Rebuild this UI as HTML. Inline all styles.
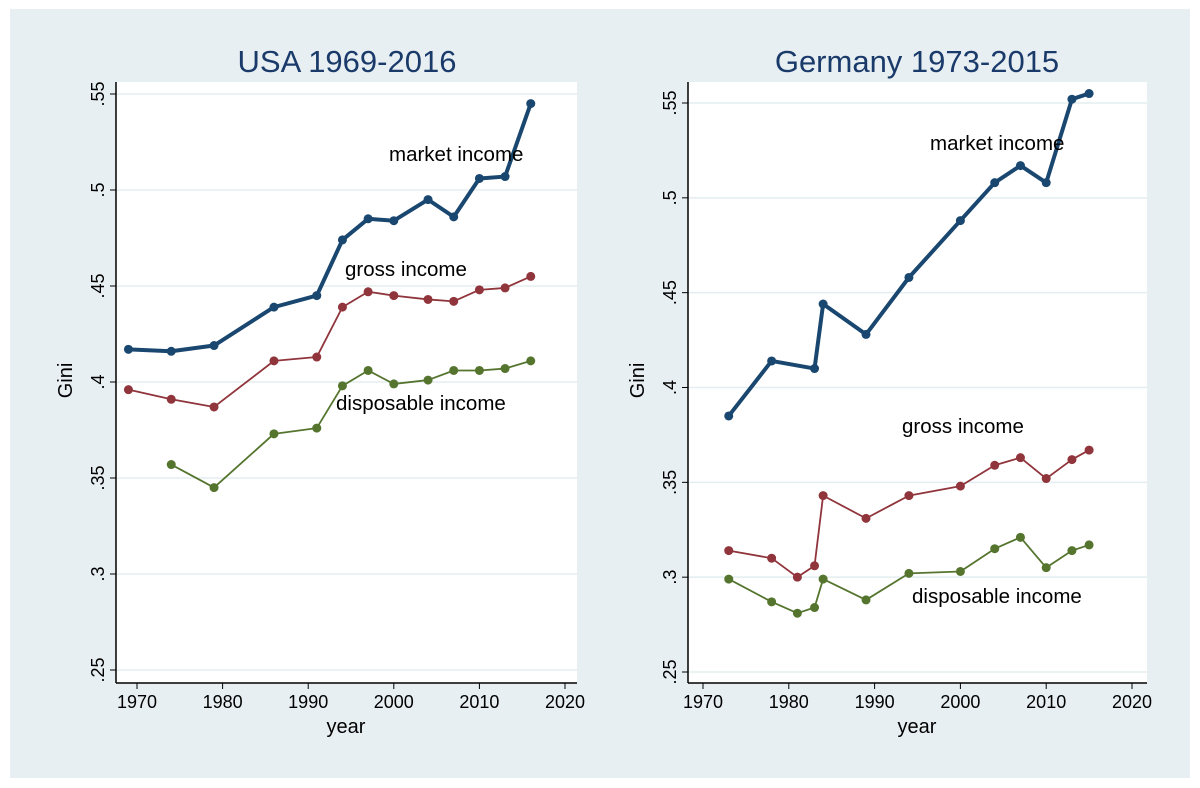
<!DOCTYPE html>
<html><head><meta charset="utf-8"><style>
body{margin:0;background:#fff;font-family:"Liberation Sans",sans-serif}
svg{display:block}
</style></head><body>
<svg id="c" width="1200" height="788" xmlns="http://www.w3.org/2000/svg" font-family="Liberation Sans, sans-serif">
<rect x="10" y="9" width="1180" height="769" fill="#e8eff3"/>
</svg>
<script>
const usYears=[1969,1974,1979,1986,1991,1994,1997,2000,2004,2007,2010,2013,2016];
const usMarket=[.417,.416,.419,.439,.445,.474,.485,.484,.495,.486,.506,.507,.545];
const usGross=[.396,.391,.387,.411,.413,.439,.447,.445,.443,.442,.448,.449,.455];
const usDispYears=[1974,1979,1986,1991,1994,1997,2000,2004,2007,2010,2013,2016];
const usDisp=[.357,.345,.373,.376,.398,.406,.399,.401,.406,.406,.407,.411];
const deMarketYears=[1973,1978,1983,1984,1989,1994,2000,2004,2007,2010,2013,2015];
const deMarket=[.385,.414,.410,.444,.428,.458,.488,.508,.517,.508,.552,.555];
const deYears=[1973,1978,1981,1983,1984,1989,1994,2000,2004,2007,2010,2013,2015];
const deGross=[.314,.310,.300,.306,.343,.331,.343,.348,.359,.363,.352,.362,.367];
const deDisp=[.299,.287,.281,.284,.299,.288,.302,.303,.315,.321,.305,.314,.317];
const yTicks=[.25,.3,.35,.4,.45,.5,.55];
const yTickLabels=[".25",".3",".35",".4",".45",".5",".55"];
const xTicks=[1970,1980,1990,2000,2010,2020];

const svg=document.getElementById('c');
const NS='http://www.w3.org/2000/svg';
function mk(tag,attrs,parent){const e=document.createElementNS(NS,tag);for(const k in attrs)e.setAttribute(k,attrs[k]);(parent||svg).appendChild(e);return e;}

function panel(cfg){
  const g=mk('g',{});
  
  
  const X=y=>cfg.x0+(y-1970)*(cfg.x1-cfg.x0)/50;
  const Y=v=>cfg.y25+(v-.25)*(cfg.y55-cfg.y25)/.3;
  const pa=mk('rect',{x:cfg.l,y:cfg.t,width:cfg.r-cfg.l,height:cfg.b-cfg.t,fill:'#fff'},g);
  
  
  yTicks.forEach((v,i)=>{
    const yy=Y(v);
    const gl=mk('line',{x1:cfg.l,x2:cfg.r,y1:yy,y2:yy,stroke:'#e3eef1','stroke-width':1.5},g);
    
    
    mk('line',{x1:cfg.l-6,x2:cfg.l,y1:yy,y2:yy,stroke:'#000','stroke-width':1},g);
    const t=mk('text',{x:0,y:0,transform:`translate(${cfg.l-12},${yy}) rotate(-90)`,'text-anchor':'middle','font-size':18},g);
    t.textContent=yTickLabels[i];
    
    
  });
  xTicks.forEach(v=>{
    const xx=X(v);
    mk('line',{x1:xx,x2:xx,y1:cfg.b,y2:cfg.b+6,stroke:'#000'},g);
    const t=mk('text',{x:xx,y:cfg.b+25,'text-anchor':'middle','font-size':18},g);
    t.textContent=v;
    
    
  });
  mk('line',{x1:cfg.l,x2:cfg.l,y1:cfg.t,y2:cfg.b,stroke:'#000','stroke-width':1.5},g);
  mk('line',{x1:cfg.l,x2:cfg.r,y1:cfg.b,y2:cfg.b,stroke:'#000','stroke-width':1.5},g);
  const xt=mk('text',{x:cfg.xtx,y:733,'text-anchor':'middle','font-size':20},g);
  xt.textContent='year';
  
  
  const yt=mk('text',{x:0,y:0,transform:`translate(${cfg.l-44},${(cfg.t+cfg.b)/2-2}) rotate(-90)`,'text-anchor':'middle','font-size':20},g);
  yt.textContent='Gini';
  
  
  const ti=mk('text',{x:cfg.tx,y:72,'text-anchor':'middle','font-size':31,fill:'#1a3a6a'},g);
  ti.textContent=cfg.title;
  
  
  cfg.series.forEach(s=>{
    const pts=s.xs.map((x,i)=>X(x)+','+Y(s.ys[i])).join(' ');
    const pl=mk('polyline',{points:pts,fill:'none',stroke:s.color,'stroke-width':s.w,'stroke-linejoin':'round'},g);
    
    
    s.xs.forEach((x,i)=>{
      const c=mk('circle',{cx:X(x),cy:Y(s.ys[i]),r:s.r,fill:s.color},g);
      
      
    });
  });
  cfg.labels.forEach(lb=>{
    const t=mk('text',{x:lb[1],y:lb[2],'font-size':20.5},g);
    t.textContent=lb[0];
    
    
  });
}
const MC='#1a476f',GC='#90353b',DC='#55752f';
panel({name:'usa-panel',title:'USA 1969-2016',tx:347,xtx:346,l:116,r:577,t:82,b:683,x0:137,x1:565,y25:670,y55:94,
  series:[{name:'market',xs:usYears,ys:usMarket,color:MC,w:4,r:4.5},{name:'gross',xs:usYears,ys:usGross,color:GC,w:1.8,r:4.5},{name:'disposable',xs:usDispYears,ys:usDisp,color:DC,w:1.8,r:4.5}],
  labels:[['market income',389,161],['gross income',345,276],['disposable income',336,410]]});
panel({name:'germany-panel',title:'Germany 1973-2015',tx:917,xtx:917,l:688,r:1147,t:82,b:683,x0:703,x1:1132,y25:672,y55:103,
  series:[{name:'market',xs:deMarketYears,ys:deMarket,color:MC,w:4,r:4.5},{name:'gross',xs:deYears,ys:deGross,color:GC,w:1.8,r:4.5},{name:'disposable',xs:deYears,ys:deDisp,color:DC,w:1.8,r:4.5}],
  labels:[['market income',930,150],['gross income',902,433],['disposable income',912,603]]});
</script>
</body></html>
